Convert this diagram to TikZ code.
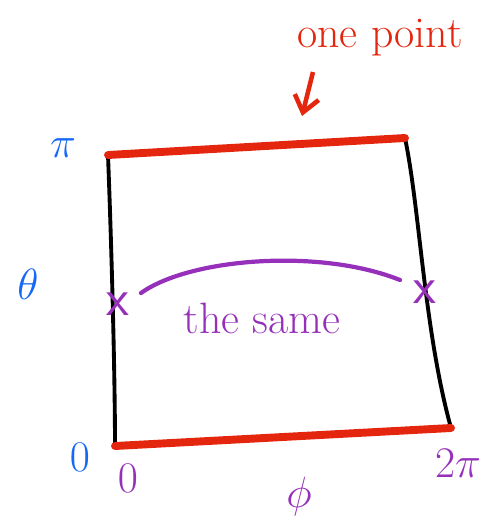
\documentclass[tikz,border=0pt]{standalone}
\usepackage{tikz}
\usetikzlibrary{arrows.meta}
\definecolor{sketchred}{RGB}{228,38,14}
\definecolor{sketchblue}{RGB}{22,104,246}
\definecolor{sketchpurple}{RGB}{150,48,186}

\begin{document}
\begin{tikzpicture}[
      x=0.02cm, y=-0.02cm,
      edge/.style   = {draw=black, line width=2.2pt, line cap=round, line join=round},
      seam/.style   = {draw=sketchred, line width=4.5pt, line cap=round},
      glue/.style   = {draw=sketchpurple, line width=2.4pt, line cap=round},
      cross/.style  = {text=sketchpurple, font=\fontsize{30}{30}\selectfont\sffamily, inner sep=0pt},
      note/.style   = {font=\fontsize{25}{28}\selectfont},
      axlbl/.style  = {inner sep=0pt}
    ]
    \useasboundingbox (0,0) rectangle (482,529);

    % corners of the (theta, phi) rectangle
    \coordinate (tl) at (108,155);
    \coordinate (tr) at (405,138);
    \coordinate (br) at (451,428);
    \coordinate (bl) at (115,446);

    % black sides
    \draw[edge] (tl) .. controls (112,260) and (115,380) .. (bl);
    \draw[edge] (tr) .. controls (420,210) and (424,330) .. (br);
    % red edges, each collapsed to a point / glued
    \draw[seam] (tl) -- (tr);
    \draw[seam] (bl) -- (br);

    % the glued points
    \node[cross] (xl) at (118,304) {x};
    \node[cross] (xr) at (425,292) {x};
    \coordinate (al) at (141,293);
    \coordinate (ar) at (400,280);
    \draw[glue] (al) .. controls (190,258) and (320,248) .. (ar);
    \node[note, text=sketchpurple] (same) at (262,318) {the same};

    % top label
    \node[note, text=sketchred] (onept) at (380,38) {one point};
    \coordinate (tail) at (313,72);
    \coordinate (tip) at (302,116);
    \draw[sketchred, line width=2.6pt, -{Straight Barb[length=9pt, width=14pt]}]
         (tail) -- (tip);

    % theta axis
    \node[axlbl, text=sketchblue, font=\fontsize{30}{30}\selectfont] (pitop) at (63,148) {$\pi$};
    \node[axlbl, text=sketchblue, font=\fontsize{40}{40}\selectfont] (theta) at (28,284) {$\theta$};
    \node[axlbl, text=sketchblue, font=\fontsize{28}{28}\selectfont] (zerot) at (80,457) {$0$};

    % phi axis
    \node[axlbl, text=sketchpurple, font=\fontsize{30}{30}\selectfont] (zerop) at (128,478) {$0$};
    \node[axlbl, text=sketchpurple, font=\fontsize{30}{30}\selectfont] (twopi) at (458,463) {$2\pi$};
    \node[axlbl, text=sketchpurple, font=\fontsize{38}{38}\selectfont] (phi) at (299,497) {$\phi$};
  \end{tikzpicture}
\end{document}
